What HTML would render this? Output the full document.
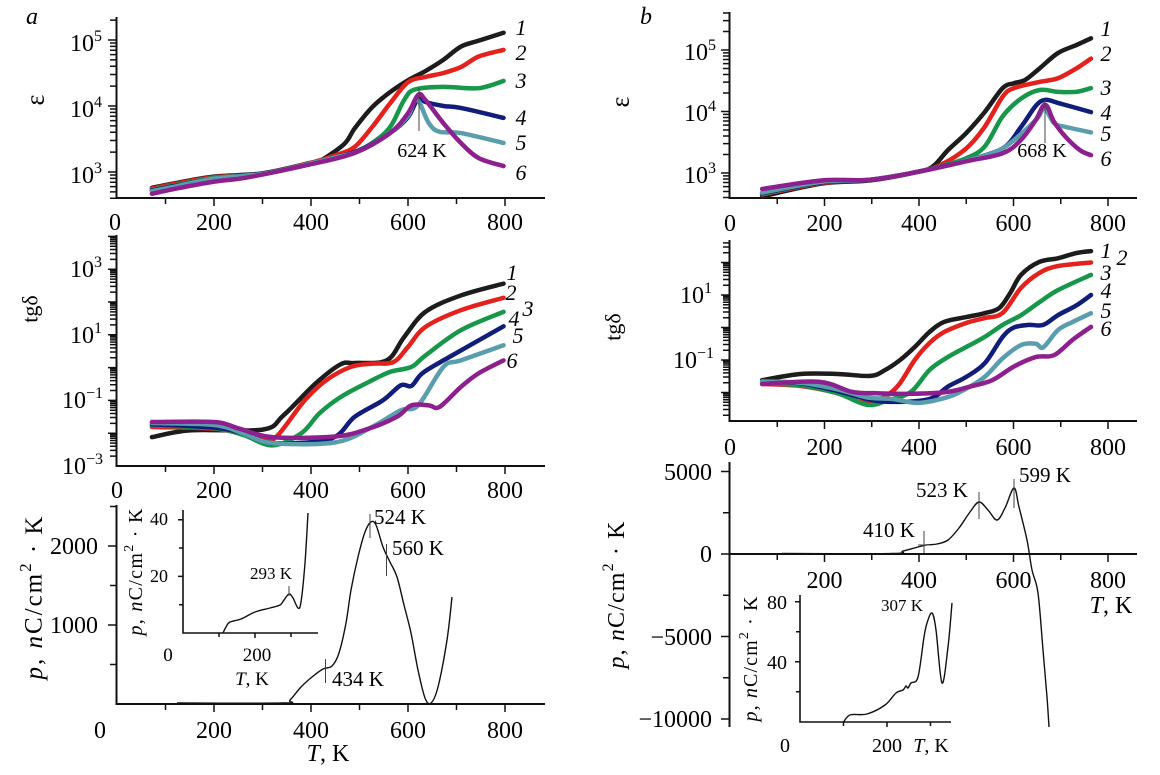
<!DOCTYPE html>
<html><head><meta charset="utf-8"><style>
html,body{margin:0;padding:0;background:#fff;}
svg{display:block;font-family:"Liberation Serif",serif;}
svg text{font-family:"Liberation Serif",serif;}
.ax{fill:none;stroke:#111;stroke-width:2;}
.tk{fill:none;stroke:#111;stroke-width:1.5;}
.c{fill:none;stroke-width:4.5;stroke-linejoin:round;stroke-linecap:round;}
.p{fill:none;stroke:#111;stroke-width:1.4;stroke-linejoin:round;}
.mk{stroke:#444;stroke-width:1;}
</style></head><body>
<svg width="1160" height="775" viewBox="0 0 1160 775" xmlns="http://www.w3.org/2000/svg" font-family="Liberation Serif, serif">
<rect width="1160" height="775" fill="#fff"/>

<!-- ================= PANEL a : epsilon ================= -->
<text x="32" y="24" font-size="24" font-style="italic" text-anchor="middle">a</text>
<text transform="translate(35,100) rotate(-90)" font-size="26" text-anchor="middle" dominant-baseline="central">ε</text>
<path class="ax" d="M116.5,17V198H545"/>
<path class="tk" d="M165.5,198v6M214,198v8M262.5,198v6M311,198v8M359.5,198v6M408,198v8M456.5,198v6M505,198v8"/>
<g transform="translate(0,370) scale(1,-66)">
<path class="tk" vector-effect="non-scaling-stroke" d="M108,3h8.5M108,4h8.5M108,5h8.5
M110,2.602h6.5M110,2.699h6.5M110,2.778h6.5M110,2.845h6.5M110,2.903h6.5M110,2.954h6.5
M110,3.301h6.5M110,3.477h6.5M110,3.602h6.5M110,3.699h6.5M110,3.778h6.5M110,3.845h6.5M110,3.903h6.5M110,3.954h6.5
M110,4.301h6.5M110,4.477h6.5M110,4.602h6.5M110,4.699h6.5M110,4.778h6.5M110,4.845h6.5M110,4.903h6.5M110,4.954h6.5
M110,5.301h6.5"/>
</g>
<g font-size="24" text-anchor="end">
<text x="102" y="51">10<tspan font-size="16" dy="-10">5</tspan></text>
<text x="102" y="117">10<tspan font-size="16" dy="-10">4</tspan></text>
<text x="102" y="183">10<tspan font-size="16" dy="-10">3</tspan></text>
</g>
<g font-size="24" text-anchor="middle">
<text x="115" y="230">0</text><text x="214" y="230">200</text><text x="311" y="230">400</text><text x="408" y="230">600</text><text x="505" y="230">800</text>
</g>
<g transform="translate(117,370) scale(0.485,-66)">
<polyline class="c" vector-effect="non-scaling-stroke" stroke="#1c1c1c" points="72,2.76 120,2.83 200,2.93 300,2.98 400,3.14 417,3.16 468,3.42 490,3.66 526,3.98 563,4.21 600,4.39 636,4.53 673,4.70 709,4.90 746,4.99 797,5.11"/>
<polyline class="c" vector-effect="non-scaling-stroke" stroke="#e3211d" points="72,2.75 120,2.82 200,2.92 300,2.97 400,3.14 453,3.26 490,3.38 526,3.68 563,4.04 600,4.36 636,4.44 673,4.50 709,4.59 746,4.75 797,4.85"/>
<polyline class="c" vector-effect="non-scaling-stroke" stroke="#17974a" points="72,2.73 120,2.80 200,2.91 300,2.97 400,3.13 450,3.22 490,3.30 526,3.44 563,3.68 592,4.09 614,4.25 673,4.29 746,4.27 797,4.38"/>
<polyline class="c" vector-effect="non-scaling-stroke" stroke="#101e7a" points="72,2.72 120,2.79 200,2.90 300,2.97 400,3.13 450,3.22 500,3.33 563,3.59 600,3.83 621,4.12 636,4.06 673,4.0 709,3.97 797,3.82"/>
<polyline class="c" vector-effect="non-scaling-stroke" stroke="#5a9eae" points="72,2.71 120,2.78 200,2.90 300,2.97 400,3.13 450,3.22 500,3.32 563,3.59 600,3.85 618,4.10 643,3.74 665,3.61 709,3.59 797,3.44"/>
<polyline class="c" vector-effect="non-scaling-stroke" stroke="#8e1f8e" points="72,2.67 130,2.76 197,2.85 270,2.92 395,3.11 490,3.29 563,3.59 600,3.89 621,4.17 636,4.09 673,3.74 709,3.44 746,3.21 797,3.09"/>
</g>
<line class="mk" x1="419" y1="88" x2="419" y2="131"/>
<text x="422" y="157" font-size="20" text-anchor="middle">624 K</text>
<g font-size="22" font-style="italic" text-anchor="middle">
<text x="521" y="35">1</text><text x="521" y="60">2</text><text x="521" y="88">3</text><text x="521" y="125">4</text><text x="521" y="150">5</text><text x="521" y="180">6</text>
</g>

<!-- ================= PANEL a : tg delta ================= -->
<text transform="translate(30,309) rotate(-90)" font-size="22" text-anchor="middle" dominant-baseline="central">tgδ</text>
<path class="ax" d="M116.5,235V466H545"/>
<path class="tk" d="M165.5,466v6M214,466v8M262.5,466v6M311,466v8M359.5,466v6M408,466v8M456.5,466v6M505,466v8"/>
<g transform="translate(0,367.6) scale(1,-32.8)">
<path class="tk" vector-effect="non-scaling-stroke" d="M108,-2h8.5M108,-1h8.5M108,0h8.5M108,1h8.5M108,2h8.5M108,3h8.5M108,4h8.5
M110,-2.699h6.5M110,-2.523h6.5M110,-2.398h6.5M110,-2.301h6.5M110,-2.222h6.5M110,-2.155h6.5M110,-2.097h6.5M110,-2.046h6.5
M110,-1.699h6.5M110,-1.523h6.5M110,-1.398h6.5M110,-1.301h6.5M110,-1.222h6.5M110,-1.155h6.5M110,-1.097h6.5M110,-1.046h6.5
M110,-0.699h6.5M110,-0.523h6.5M110,-0.398h6.5M110,-0.301h6.5M110,-0.222h6.5M110,-0.155h6.5M110,-0.097h6.5M110,-0.046h6.5
M110,0.301h6.5M110,0.477h6.5M110,0.602h6.5M110,0.699h6.5M110,0.778h6.5M110,0.845h6.5M110,0.903h6.5M110,0.954h6.5
M110,1.301h6.5M110,1.477h6.5M110,1.602h6.5M110,1.699h6.5M110,1.778h6.5M110,1.845h6.5M110,1.903h6.5M110,1.954h6.5
M110,2.301h6.5M110,2.477h6.5M110,2.602h6.5M110,2.699h6.5M110,2.778h6.5M110,2.845h6.5M110,2.903h6.5M110,2.954h6.5
M110,3.301h6.5M110,3.477h6.5M110,3.602h6.5M110,3.699h6.5M110,3.778h6.5M110,3.845h6.5M110,3.903h6.5M110,3.954h6.5"/>
</g>
<g font-size="24" text-anchor="end">
<text x="102" y="277">10<tspan font-size="16" dy="-10">3</tspan></text>
<text x="102" y="343">10<tspan font-size="16" dy="-10">1</tspan></text>
<text x="103" y="408">10<tspan font-size="16" dy="-10">−1</tspan></text>
<text x="103" y="474">10<tspan font-size="16" dy="-10">−3</tspan></text>
</g>
<g font-size="24" text-anchor="middle">
<text x="117" y="498">0</text><text x="214" y="498">200</text><text x="311" y="498">400</text><text x="408" y="498">600</text><text x="505" y="498">800</text>
</g>
<g transform="translate(117,367.6) scale(0.485,-32.8)">
<polyline class="c" vector-effect="non-scaling-stroke" stroke="#1c1c1c" points="72,-2.12 153,-1.91 300,-1.89 343,-1.46 409,-0.49 461,0.10 490,0.14 556,0.22 592,0.93 636,1.70 709,2.2 797,2.56"/>
<polyline class="c" vector-effect="non-scaling-stroke" stroke="#e3211d" points="72,-1.81 200,-1.86 250,-2.0 300,-2.2 329,-2.1 387,-1.0 431,-0.39 482,0.02 526,0.12 570,0.17 600,0.63 636,1.24 709,1.75 797,2.13"/>
<polyline class="c" vector-effect="non-scaling-stroke" stroke="#17974a" points="72,-1.76 200,-1.85 260,-2.05 320,-2.37 380,-2.0 417,-1.4 461,-0.9 519,-0.44 563,-0.13 607,0.02 636,0.37 709,1.14 797,1.70"/>
<polyline class="c" vector-effect="non-scaling-stroke" stroke="#101e7a" points="72,-1.73 200,-1.83 260,-2.0 320,-2.3 440,-2.17 490,-1.5 548,-1.0 585,-0.54 607,-0.56 629,-0.18 673,0.22 797,1.26"/>
<polyline class="c" vector-effect="non-scaling-stroke" stroke="#5a9eae" points="72,-1.69 200,-1.75 260,-2.0 320,-2.3 450,-2.28 526,-1.81 585,-1.3 621,-1.15 673,0.02 709,0.22 797,0.68"/>
<polyline class="c" vector-effect="non-scaling-stroke" stroke="#8e1f8e" points="72,-1.66 200,-1.66 250,-1.85 320,-2.12 450,-2.1 519,-1.86 577,-1.5 607,-1.15 643,-1.15 665,-1.2 709,-0.59 745,-0.18 797,0.22"/>
</g>
<g font-size="22" font-style="italic" text-anchor="middle">
<text x="512" y="280">1</text><text x="511" y="300">2</text><text x="528" y="316">3</text><text x="514" y="326">4</text><text x="518" y="343">5</text><text x="512" y="368">6</text>
</g>

<!-- ================= PANEL a : pyro ================= -->
<text transform="translate(34,598) rotate(-90)" font-size="25" text-anchor="middle" dominant-baseline="central" textLength="163" lengthAdjust="spacing"><tspan font-style="italic">p</tspan>, <tspan font-style="italic">n</tspan>C/cm<tspan font-size="17" dy="-9">2</tspan><tspan dy="9"> · K</tspan></text>
<path class="ax" d="M116.5,505V704H545"/>
<path class="tk" d="M165.5,704v6M214,704v8M262.5,704v6M311,704v8M359.5,704v6M408,704v8M456.5,704v6M505,704v8"/>
<path class="tk" d="M110,506.5h6.5M108,546h8.5M110,585.5h6.5M108,625h8.5M110,664.5h6.5"/>
<g font-size="24" text-anchor="end">
<text x="98" y="554">2000</text><text x="98" y="633">1000</text>
</g>
<g font-size="24" text-anchor="middle">
<text x="100" y="738">0</text><text x="214" y="738">200</text><text x="311" y="738">400</text><text x="408" y="738">600</text><text x="505" y="738">800</text>
<text x="328" y="761"><tspan font-style="italic">T</tspan>, K</text>
</g>
<polyline class="p" points="177,703 283,703 290,700 301,687 312,677 323,669 332,666 339,653 346,623 351,590 358,557 365,532 371,522 376,525 383,547 390,562 397,577 404,605 411,633 418,670 425,698 431,703 438,687 447,640 452,597"/>
<line class="mk" x1="370" y1="514" x2="370" y2="538"/>
<line class="mk" x1="386.5" y1="544" x2="386.5" y2="576"/>
<line class="mk" x1="325.5" y1="659" x2="325.5" y2="683"/>
<g font-size="21" text-anchor="middle">
<text x="400" y="524">524 K</text><text x="418" y="555">560 K</text><text x="358" y="686">434 K</text>
</g>
<!-- inset a -->
<path class="ax" style="stroke-width:1.6" d="M183,510V633H318"/>
<path class="tk" d="M178,519.8h5M179,548h4M178,576.4h5M179,604.7h4M219,633v4M255,633v5M291,633v4"/>
<g font-size="18" text-anchor="end">
<text x="168" y="525">40</text><text x="168" y="582">20</text>
</g>
<g font-size="19" text-anchor="middle">
<text x="168" y="661">0</text><text x="257" y="661">200</text>
<text x="252" y="685"><tspan font-style="italic">T</tspan>, K</text>
</g>
<text transform="translate(136,572) rotate(-90)" font-size="20" text-anchor="middle" dominant-baseline="central" textLength="127" lengthAdjust="spacing"><tspan font-style="italic">p</tspan>, <tspan font-style="italic">n</tspan>C/cm<tspan font-size="14" dy="-7">2</tspan><tspan dy="7"> · K</tspan></text>
<polyline class="p" points="223,633 226,627 230,622 241,619 255,612 270,608 280,605 284,600 289,594 293,598 298,608 301,602 305,563 308,513"/>
<line class="mk" x1="289" y1="586" x2="289" y2="596"/>
<text x="271" y="579" font-size="17" text-anchor="middle">293 K</text>

<!-- ================= PANEL b : epsilon ================= -->
<text x="646" y="24" font-size="24" font-style="italic" text-anchor="middle">b</text>
<text transform="translate(620,102) rotate(-90)" font-size="26" text-anchor="middle" dominant-baseline="central">ε</text>
<path class="ax" d="M729.5,12V198H1137"/>
<path class="tk" d="M777.25,198v6M824.5,198v8M871.75,198v6M919,198v8M966.25,198v6M1013.5,198v8M1060.75,198v6M1108,198v8"/>
<g transform="translate(0,357.5) scale(1,-61.5)">
<path class="tk" vector-effect="non-scaling-stroke" d="M721,3h8.5M721,4h8.5M721,5h8.5
M723,2.602h6.5M723,2.699h6.5M723,2.778h6.5M723,2.845h6.5M723,2.903h6.5M723,2.954h6.5
M723,3.301h6.5M723,3.477h6.5M723,3.602h6.5M723,3.699h6.5M723,3.778h6.5M723,3.845h6.5M723,3.903h6.5M723,3.954h6.5
M723,4.301h6.5M723,4.477h6.5M723,4.602h6.5M723,4.699h6.5M723,4.778h6.5M723,4.845h6.5M723,4.903h6.5M723,4.954h6.5
M723,5.301h6.5M723,5.477h6.5M723,5.602h6.5"/>
</g>
<g font-size="24" text-anchor="end">
<text x="716" y="60">10<tspan font-size="16" dy="-10">5</tspan></text>
<text x="716" y="121">10<tspan font-size="16" dy="-10">4</tspan></text>
<text x="716" y="183">10<tspan font-size="16" dy="-10">3</tspan></text>
</g>
<g font-size="24" text-anchor="middle">
<text x="730" y="231">0</text><text x="824.5" y="231">200</text><text x="919" y="231">400</text><text x="1013.5" y="231">600</text><text x="1108" y="231">800</text>
</g>
<g transform="translate(730,357.5) scale(0.4725,-61.5)">
<polyline class="c" vector-effect="non-scaling-stroke" stroke="#1c1c1c" points="68,2.62 196,2.83 297,2.88 398,3.02 430,3.11 461,3.37 500,3.65 539,3.99 577,4.38 601,4.46 624,4.51 655,4.70 694,4.95 733,5.08 764,5.19"/>
<polyline class="c" vector-effect="non-scaling-stroke" stroke="#e3211d" points="68,2.65 196,2.84 297,2.89 398,3.02 445,3.13 500,3.40 539,3.75 577,4.24 601,4.38 655,4.48 694,4.54 733,4.70 764,4.86"/>
<polyline class="c" vector-effect="non-scaling-stroke" stroke="#17974a" points="68,2.66 196,2.85 297,2.89 398,3.02 450,3.12 500,3.24 539,3.43 577,3.92 616,4.21 655,4.35 694,4.32 733,4.32 764,4.38"/>
<polyline class="c" vector-effect="non-scaling-stroke" stroke="#101e7a" points="68,2.67 196,2.85 297,2.89 398,3.02 450,3.11 500,3.2 577,3.40 616,3.75 647,4.09 667,4.19 694,4.14 764,3.99"/>
<polyline class="c" vector-effect="non-scaling-stroke" stroke="#5a9eae" points="68,2.68 196,2.86 297,2.89 398,3.02 500,3.2 577,3.4 647,3.86 665,4.05 686,3.81 710,3.75 764,3.66"/>
<polyline class="c" vector-effect="non-scaling-stroke" stroke="#8e1f8e" points="68,2.74 196,2.88 297,2.89 398,3.02 500,3.19 577,3.32 616,3.54 647,3.86 667,4.11 686,3.83 710,3.59 741,3.37 764,3.29"/>
</g>
<line class="mk" x1="1045" y1="100" x2="1045" y2="143"/>
<text x="1042" y="157" font-size="20" text-anchor="middle">668 K</text>
<g font-size="22" font-style="italic" text-anchor="middle">
<text x="1106" y="36">1</text><text x="1106" y="61">2</text><text x="1106" y="95">3</text><text x="1106" y="120">4</text><text x="1106" y="141">5</text><text x="1106" y="166">6</text>
</g>

<!-- ================= PANEL b : tg delta ================= -->
<text transform="translate(613,327) rotate(-90)" font-size="22" text-anchor="middle" dominant-baseline="central">tgδ</text>
<path class="ax" d="M729.5,240V421H1137"/>
<path class="tk" d="M777.25,421v6M824.5,421v8M871.75,421v6M919,421v8M966.25,421v6M1013.5,421v8M1060.75,421v6M1108,421v8"/>
<g transform="translate(0,327.5) scale(1,-32.5)">
<path class="tk" vector-effect="non-scaling-stroke" d="M721,-2h8.5M721,-1h8.5M721,0h8.5M721,1h8.5M721,2h8.5
M723,-2.699h6.5M723,-2.523h6.5M723,-2.398h6.5M723,-2.301h6.5M723,-2.222h6.5M723,-2.155h6.5M723,-2.097h6.5M723,-2.046h6.5
M723,-1.699h6.5M723,-1.523h6.5M723,-1.398h6.5M723,-1.301h6.5M723,-1.222h6.5M723,-1.155h6.5M723,-1.097h6.5M723,-1.046h6.5
M723,-0.699h6.5M723,-0.523h6.5M723,-0.398h6.5M723,-0.301h6.5M723,-0.222h6.5M723,-0.155h6.5M723,-0.097h6.5M723,-0.046h6.5
M723,0.301h6.5M723,0.477h6.5M723,0.602h6.5M723,0.699h6.5M723,0.778h6.5M723,0.845h6.5M723,0.903h6.5M723,0.954h6.5
M723,1.301h6.5M723,1.477h6.5M723,1.602h6.5M723,1.699h6.5M723,1.778h6.5M723,1.845h6.5M723,1.903h6.5M723,1.954h6.5
M723,2.301h6.5M723,2.477h6.5M723,2.602h6.5"/>
</g>
<g font-size="24" text-anchor="end">
<text x="712" y="303">10<tspan font-size="16" dy="-10">1</tspan></text>
<text x="714" y="368">10<tspan font-size="16" dy="-10">−1</tspan></text>
</g>
<g font-size="24" text-anchor="middle">
<text x="730" y="455">0</text><text x="824.5" y="455">200</text><text x="919" y="455">400</text><text x="1013.5" y="455">600</text><text x="1108" y="455">800</text>
</g>
<g transform="translate(730,327.5) scale(0.4725,-32.5)">
<polyline class="c" vector-effect="non-scaling-stroke" stroke="#1c1c1c" points="68,-1.62 149,-1.43 227,-1.43 297,-1.49 328,-1.31 360,-1.0 391,-0.6 422,-0.14 453,0.17 500,0.32 539,0.44 570,0.6 593,1.06 616,1.62 655,2.02 694,2.13 733,2.29 764,2.35"/>
<polyline class="c" vector-effect="non-scaling-stroke" stroke="#e3211d" points="68,-1.74 149,-1.8 227,-2.02 274,-2.29 305,-2.27 336,-2.05 360,-1.71 391,-1.0 422,-0.48 453,-0.14 500,0.14 539,0.29 577,0.45 616,1.22 655,1.68 694,1.89 764,2.0"/>
<polyline class="c" vector-effect="non-scaling-stroke" stroke="#17974a" points="68,-1.72 149,-1.78 227,-2.02 290,-2.38 336,-2.23 383,-1.98 422,-1.31 461,-0.91 500,-0.6 539,-0.29 577,0.08 616,0.38 655,0.78 694,1.15 764,1.62"/>
<polyline class="c" vector-effect="non-scaling-stroke" stroke="#101e7a" points="68,-1.66 149,-1.72 227,-1.95 290,-2.2 344,-2.29 422,-2.2 461,-1.82 500,-1.52 539,-1.1 577,-0.29 601,0.0 632,0.08 663,0.08 694,0.38 733,0.68 764,1.0"/>
<polyline class="c" vector-effect="non-scaling-stroke" stroke="#5a9eae" points="68,-1.66 149,-1.7 227,-1.9 290,-2.15 344,-2.2 398,-2.32 461,-2.14 500,-1.88 539,-1.52 577,-0.95 616,-0.54 647,-0.5 663,-0.61 694,-0.08 725,0.17 764,0.44"/>
<polyline class="c" vector-effect="non-scaling-stroke" stroke="#8e1f8e" points="68,-1.74 188,-1.67 258,-1.98 305,-2.02 383,-2.04 461,-1.98 507,-1.82 555,-1.62 601,-1.2 647,-0.91 686,-0.85 725,-0.38 764,0.02"/>
</g>
<g font-size="22" font-style="italic" text-anchor="middle">
<text x="1106" y="258">1</text><text x="1122" y="265">2</text><text x="1106" y="280">3</text><text x="1106" y="298">4</text><text x="1106" y="318">5</text><text x="1106" y="336">6</text>
</g>

<!-- ================= PANEL b : pyro ================= -->
<text transform="translate(617,595) rotate(-90)" font-size="24" text-anchor="middle" dominant-baseline="central" textLength="147" lengthAdjust="spacing"><tspan font-style="italic">p</tspan>, <tspan font-style="italic">n</tspan>C/cm<tspan font-size="16" dy="-9">2</tspan><tspan dy="9"> · K</tspan></text>
<path class="ax" d="M729.5,462V727M729.5,554H1137"/>
<path class="tk" d="M777.25,554v6M824.5,554v8M871.75,554v6M919,554v8M966.25,554v6M1013.5,554v8M1060.75,554v6M1108,554v8"/>
<path class="tk" d="M721,471.5h8.5M723,512.75h6.5M721,554h8.5M723,595.25h6.5M721,636.5h8.5M723,677.75h6.5M721,719h8.5"/>
<g font-size="24" text-anchor="end">
<text x="712" y="480">5000</text><text x="712" y="562">0</text><text x="712" y="645">−5000</text><text x="712" y="727">−10000</text>
</g>
<g font-size="24" text-anchor="middle">
<text x="824.5" y="588">200</text><text x="919" y="588">400</text><text x="1013.5" y="588">600</text><text x="1108" y="588">800</text>
<text x="1111" y="613"><tspan font-style="italic">T</tspan>, K</text>
</g>
<polyline class="p" points="782,553.5 892,553.5 903,551 918,547 926,545 937,544 948,540 959,528 970,512 979,502 988,510 997,520 1005,508 1014,488 1019,507 1027,540 1032,570 1038,593 1043,650 1047,697 1049,727"/>
<line class="mk" x1="979" y1="492" x2="979" y2="519"/>
<line class="mk" x1="1014" y1="479" x2="1014" y2="508"/>
<line class="mk" x1="924" y1="531" x2="924" y2="553"/>
<line class="mk" x1="918" y1="545" x2="930" y2="545"/>
<g font-size="21" text-anchor="middle">
<text x="942" y="497">523 K</text><text x="1045" y="482">599 K</text><text x="889" y="537">410 K</text>
</g>
<!-- inset b -->
<path class="ax" style="stroke-width:1.6" d="M800,595V722H951"/>
<path class="tk" d="M795,601.7h5M796,631.7h4M795,661.7h5M796,691.7h4M843.5,722v4M887,722v5M930.5,722v4"/>
<g font-size="20" text-anchor="end">
<text x="787" y="609">80</text><text x="787" y="669">40</text>
</g>
<g font-size="20" text-anchor="middle">
<text x="785" y="752">0</text><text x="887" y="752">200</text>
<text x="931" y="752"><tspan font-style="italic">T</tspan>, K</text>
</g>
<text transform="translate(751,659) rotate(-90)" font-size="20" text-anchor="middle" dominant-baseline="central" textLength="125" lengthAdjust="spacing"><tspan font-style="italic">p</tspan>, <tspan font-style="italic">n</tspan>C/cm<tspan font-size="14" dy="-7">2</tspan><tspan dy="7"> · K</tspan></text>
<polyline class="p" points="843,723 850,715 867,714 885,705 896,693 903,690 906,686 908,688 911,683 918,677 924,637 927,623 932,613 936,630 942,683 948,647 952,603"/>
<text x="902" y="611" font-size="17" text-anchor="middle">307 K</text>
</svg>
<script>
(function(){
  var NS="http://www.w3.org/2000/svg";
  var pls=document.querySelectorAll("polyline");
  for(var k=0;k<pls.length;k++){
    var pl=pls[k];
    var raw=pl.getAttribute("points").trim().split(/\s+/);
    var P=raw.map(function(s){var a=s.split(",");return [parseFloat(a[0]),parseFloat(a[1])];});
    if(P.length<3)continue;
    var d="M"+P[0][0]+","+P[0][1];
    for(var i=0;i<P.length-1;i++){
      var p0=P[i-1]||P[i],p1=P[i],p2=P[i+1],p3=P[i+2]||P[i+1];
      var c1x=p1[0]+(p2[0]-p0[0])/6,c1y=p1[1]+(p2[1]-p0[1])/6;
      var c2x=p2[0]-(p3[0]-p1[0])/6,c2y=p2[1]-(p3[1]-p1[1])/6;
      d+="C"+c1x+","+c1y+" "+c2x+","+c2y+" "+p2[0]+","+p2[1];
    }
    var path=document.createElementNS(NS,"path");
    for(var j=0;j<pl.attributes.length;j++){
      var at=pl.attributes[j];
      if(at.name!=="points")path.setAttribute(at.name,at.value);
    }
    path.setAttribute("d",d);
    pl.parentNode.replaceChild(path,pl);
  }
})();
</script>
</body></html>
